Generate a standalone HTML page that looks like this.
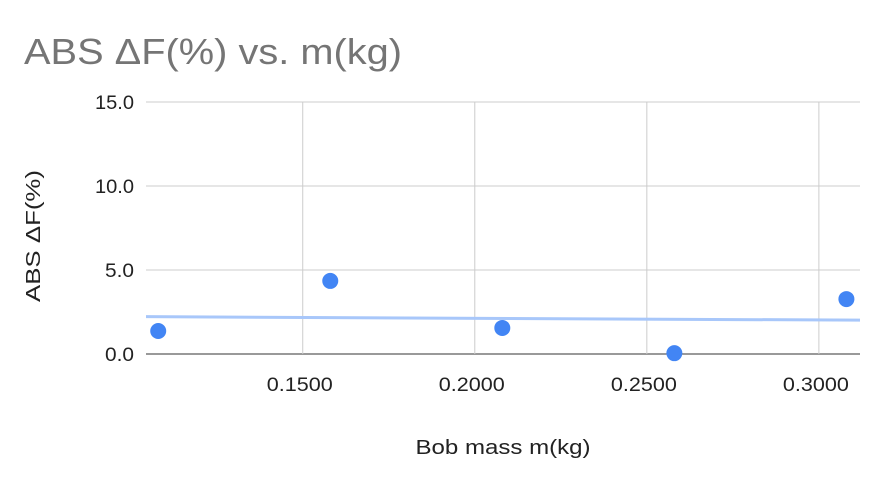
<!DOCTYPE html>
<html><head><meta charset="utf-8"><style>
body{margin:0;background:#fff;}
svg{display:block;font-family:"Liberation Sans",Arial,sans-serif;}
</style></head><body>
<svg id="chart" width="884" height="484">
<rect width="884" height="484" fill="#fff"/>
<text x="24" y="64" font-size="36" fill="#757575" textLength="378" lengthAdjust="spacingAndGlyphs">ABS ΔF(%) vs. m(kg)</text>
<text transform="translate(40,236) rotate(-90)" text-anchor="middle" font-size="20" fill="#222" textLength="132" lengthAdjust="spacingAndGlyphs">ABS ΔF(%)</text>
<text x="503" y="454" text-anchor="middle" font-size="20" fill="#222" textLength="175" lengthAdjust="spacingAndGlyphs">Bob mass m(kg)</text>
<g id="grid"></g><g id="trend"></g><g id="pts"></g><g id="labels"></g>
</svg>
<script>
const xValues=[0.108,0.158,0.208,0.258,0.308];
const yValues=[1.37,4.35,1.55,0.05,3.27];
const yTicks=[0,5,10,15];
const yTickLabels=["0.0","5.0","10.0","15.0"];
const xTicks=[0.15,0.20,0.25,0.30];
const xTickLabels=["0.1500","0.2000","0.2500","0.3000"];
const X0=146,X1=860,Y0=354,Y1=102;
const xMin=0.10445,xMax=0.31195,yMin=0,yMax=15;
const sx=v=>X0+(v-xMin)/(xMax-xMin)*(X1-X0);
const sy=v=>Y0-(v-yMin)/(yMax-yMin)*(Y0-Y1);
const NS="http://www.w3.org/2000/svg";
function mk(tag,attrs,parent){const e=document.createElementNS(NS,tag);for(const k in attrs)e.setAttribute(k,attrs[k]);document.getElementById(parent).appendChild(e);return e;}
yTicks.forEach((t,i)=>{
 const l=mk('line',{x1:X0,x2:X1,y1:sy(t),y2:sy(t),stroke:t===0?'#333':'#ccc','stroke-width':1},'grid');
 
 
 const tx=mk('text',{x:134,y:sy(t)+7,'text-anchor':'end','font-size':19,fill:'#222',textLength:yTickLabels[i].length===4?39:29,lengthAdjust:'spacingAndGlyphs'},'labels');
 tx.textContent=yTickLabels[i];
 
 
});
xTicks.forEach((t,i)=>{
 const l=mk('line',{x1:sx(t),x2:sx(t),y1:Y1,y2:Y0,stroke:'#ccc','stroke-width':1},'grid');
 
 
 const tx=mk('text',{x:sx(t)-3,y:391,'text-anchor':'middle','font-size':19,fill:'#222',textLength:66,lengthAdjust:'spacingAndGlyphs'},'labels');
 tx.textContent=xTickLabels[i];
 
 
});
const n=xValues.length;
const mx=xValues.reduce((a,b)=>a+b)/n,my=yValues.reduce((a,b)=>a+b)/n;
let num=0,den=0;for(let i=0;i<n;i++){num+=(xValues[i]-mx)*(yValues[i]-my);den+=(xValues[i]-mx)**2;}
const slope=num/den,ic=my-slope*mx;
const tl=mk('line',{x1:X0,x2:X1,y1:sy(ic+slope*xMin),y2:sy(ic+slope*xMax),stroke:'#a8c7fa','stroke-width':3},'trend');


xValues.forEach((v,i)=>{
 const c=mk('circle',{cx:sx(v),cy:sy(yValues[i]),r:8,fill:'#4285f4'},'pts');
 
 
});
</script>
</body></html>
